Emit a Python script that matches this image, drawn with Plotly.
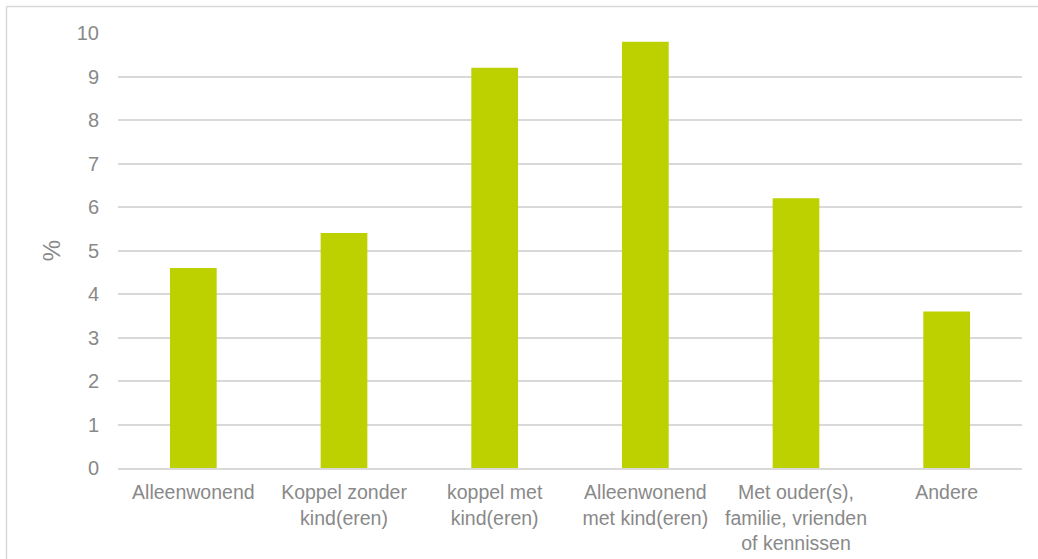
import plotly.graph_objects as go

# Household types and share (%) per category
categories = [
    "Alleenwonend",
    "Koppel zonder<br>kind(eren)",
    "koppel met<br>kind(eren)",
    "Alleenwonend<br>met kind(eren)",
    "Met ouder(s),<br>familie, vrienden<br>of kennissen",
    "Andere",
]
values = [4.6, 5.4, 9.2, 9.8, 6.2, 3.6]
y_ticks = list(range(0, 11))

BAR_COLOR = "#BDD000"
TEXT_COLOR = "#898989"
GRID_COLOR = "#D9D9D9"
FONT = "Liberation Sans, Arial, sans-serif"
FONT_SIZE = 20

fig = go.Figure(
    go.Bar(
        x=categories,
        y=values,
        marker=dict(color=BAR_COLOR, line=dict(width=0)),
        hoverinfo="x+y",
    )
)

W, H = 1038, 559
L, R, T, B = 118, 16, 33, 91
plot_w = W - L - R
plot_h = H - T - B


def px_to_paper_x(px):
    return (px - L) / plot_w


def px_to_paper_y(py):
    return (H - B - py) / plot_h


fig.update_layout(
    width=W,
    height=H,
    margin=dict(l=L, r=R, t=T, b=B, pad=0, autoexpand=False),
    paper_bgcolor="white",
    plot_bgcolor="white",
    bargap=0.69,
    showlegend=False,
    font=dict(family=FONT, size=FONT_SIZE, color=TEXT_COLOR),
    xaxis=dict(
        automargin=False,
        showgrid=False,
        showline=True,
        linecolor=GRID_COLOR,
        linewidth=1.5,
        ticks="outside",
        ticklen=6,
        tickcolor="rgba(0,0,0,0)",
        tickfont=dict(family=FONT, size=19.5, color=TEXT_COLOR),
        zeroline=False,
    ),
    yaxis=dict(
        automargin=False,
        range=[0, 10],
        tickvals=y_ticks,
        ticktext=[str(v) for v in y_ticks],
        showgrid=True,
        gridcolor=GRID_COLOR,
        gridwidth=1.5,
        zeroline=False,
        showline=False,
        ticks="outside",
        ticklen=14,
        tickcolor="rgba(0,0,0,0)",
        tickfont=dict(family=FONT, size=FONT_SIZE, color=TEXT_COLOR),
        title=dict(text="%", font=dict(family=FONT, size=24, color=TEXT_COLOR), standoff=9),
    ),
    shapes=[
        # chart frame (top and left edges)
        dict(type="line", xref="paper", yref="paper",
             x0=px_to_paper_x(6.5), x1=px_to_paper_x(1040),
             y0=px_to_paper_y(6.5), y1=px_to_paper_y(6.5),
             line=dict(color=GRID_COLOR, width=1.5)),
        dict(type="line", xref="paper", yref="paper",
             x0=px_to_paper_x(6.5), x1=px_to_paper_x(6.5),
             y0=px_to_paper_y(6.5), y1=px_to_paper_y(562),
             line=dict(color=GRID_COLOR, width=1.5)),
    ],
)

fig.write_html("out.html")
